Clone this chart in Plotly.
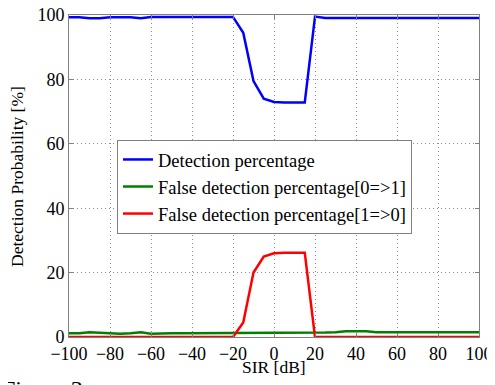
import plotly.graph_objects as go

sir_db = list(range(-100, 101, 5))

detection = [99.3, 99.3, 99.0, 99.0, 99.3, 99.3, 99.3, 99.0, 99.4, 99.4,
             99.4, 99.4, 99.4, 99.4, 99.4, 99.4, 99.4, 94.5, 79.5, 74.0,
             73.0, 72.8, 72.8, 72.8, 99.5, 99.1, 99.1, 99.1, 99.1, 99.1,
             99.1, 99.1, 99.2, 99.1, 99.1, 99.2, 99.2, 99.1, 99.2, 99.0, 99.1]

false_0_to_1 = [1.2, 1.2, 1.5, 1.3, 1.2, 1.0, 1.2, 1.5, 1.0, 1.2,
                1.2, 1.2, 1.2, 1.2, 1.2, 1.2, 1.2, 1.2, 1.3, 1.2,
                1.2, 1.4, 1.2, 1.2, 1.4, 1.4, 1.5, 1.8, 1.8, 1.8,
                1.5, 1.5, 1.5, 1.7, 1.5, 1.5, 1.5, 1.5, 1.5, 1.5, 1.5]

false_1_to_0 = [0, 0, 0, 0, 0, 0, 0, 0, 0, 0,
                0, 0, 0, 0, 0, 0, 0, 4.5, 20.0, 25.0,
                26.0, 26.2, 26.2, 26.2, 0, 0, 0, 0, 0, 0,
                0, 0, 0, 0, 0, 0, 0, 0, 0, 0, 0]

names = ["Detection percentage",
         "False detection percentage[0=>1]",
         "False detection percentage[1=>0]"]

x_ticks = list(range(-100, 101, 20))
y_ticks = list(range(0, 101, 20))

x_title = "SIR [dB]"
y_title = "Detection Probability [%]"
caption = "Figure 3."

font_family = "Liberation Serif, Times New Roman, serif"

fig = go.Figure()
for ys, name, col in [(detection, names[0], "#0000ff"),
                      (false_0_to_1, names[1], "#008000"),
                      (false_1_to_0, names[2], "#ff0000")]:
    fig.add_trace(go.Scatter(x=sir_db, y=ys, mode="lines", name=name,
                             line=dict(color=col, width=2.5)))

axis_common = dict(showline=True, linecolor="#808080", linewidth=1, mirror="ticks",
                   ticks="inside", ticklen=4, tickcolor="#808080",
                   showgrid=True, gridcolor="#8c8c8c", griddash="1px,3px", gridwidth=1,
                   zeroline=False, automargin=False, ticklabeloverflow="allow",
                   tickfont=dict(family=font_family, size=18, color="black"))

fig.update_xaxes(range=[-100, 100], tickvals=x_ticks,
                 ticktext=[str(v).replace("-", "\u2212") for v in x_ticks],
                 **axis_common)
fig.update_yaxes(range=[0, 100], tickvals=y_ticks, **axis_common)

title_font = dict(family=font_family, size=17.5, color="black")
fig.add_annotation(text=x_title, xref="paper", yref="paper", x=0.5, y=-0.094,
                   xanchor="center", yanchor="middle", showarrow=False, font=title_font)
fig.add_annotation(text=y_title, xref="paper", yref="paper", x=-0.127, y=0.5,
                   xanchor="center", yanchor="middle", textangle=-90,
                   showarrow=False, font=title_font)
fig.add_annotation(text=caption, xref="paper", yref="paper", x=-0.168, y=-0.116,
                   xanchor="left", yanchor="top", showarrow=False,
                   font=dict(family=font_family, size=24, color="black"))

# the page is drawn with an 8 px body offset, so margins compensate for it
fig.update_layout(
    width=495, height=385,
    margin=dict(l=61, r=24, t=7, b=56),
    paper_bgcolor="white", plot_bgcolor="white",
    showlegend=True,
    legend=dict(x=0.117, y=0.612, xanchor="left", yanchor="top",
                bgcolor="white", bordercolor="#808080", borderwidth=1,
                font=dict(family=font_family, size=18.5, color="black"),
                tracegroupgap=0),
    font=dict(family=font_family, color="black"),
)

fig.write_html("out.html")
